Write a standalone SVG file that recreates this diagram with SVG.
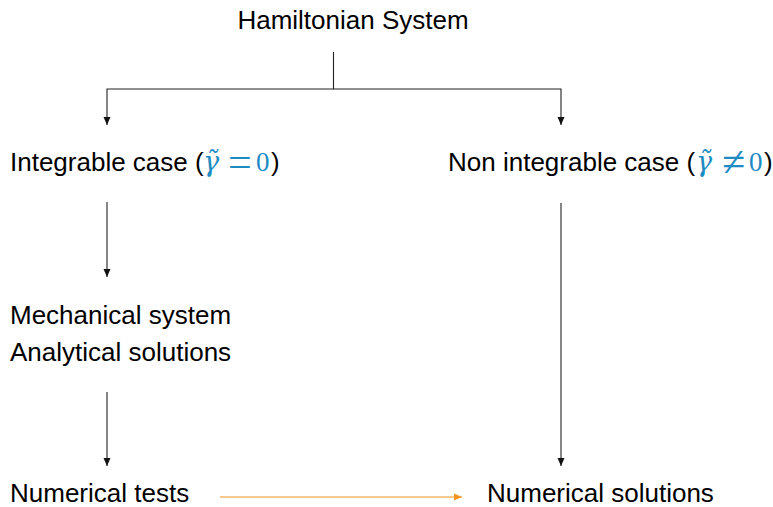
<svg xmlns="http://www.w3.org/2000/svg" width="773" height="507" viewBox="0 0 773 507">
<style>
.t{font-family:"Liberation Sans",Arial,sans-serif;font-size:26px;fill:#000}
.m{font-family:"Liberation Serif","Times New Roman",serif;fill:#1e8bc3}
.g{font-family:"DejaVu Serif",serif;font-style:italic;font-size:27px}
.eq{font-size:42px}
.z{font-size:27px}
.c{fill:none;stroke:#222;stroke-width:1.1}
.o{fill:none;stroke:#f7941d;stroke-width:1.1}
</style>
<defs>
<marker id="ah" markerWidth="8" markerHeight="10" refX="8" refY="5" orient="auto" markerUnits="userSpaceOnUse">
<path d="M0,1.5 L8,5 L0,8.5 z" fill="#111"/>
</marker>
<marker id="aho" markerWidth="8" markerHeight="10" refX="8" refY="5" orient="auto" markerUnits="userSpaceOnUse">
<path d="M0,1.5 L8,5 L0,8.5 z" fill="#f7941d"/>
</marker>
</defs>
<rect width="773" height="507" fill="#fff"/>
<g id="connectors">
<path class="c" d="M333.5,52 V89 H107 V125" marker-end="url(#ah)"/>
<path class="c" d="M333.5,89 H561 V125" marker-end="url(#ah)"/>
<path class="c" d="M107,202 V277" marker-end="url(#ah)"/>
<path class="c" d="M107,392 V466" marker-end="url(#ah)"/>
<path class="c" d="M561,203 V466" marker-end="url(#ah)"/>
<path class="o" d="M220,497 H462" marker-end="url(#aho)"/>
</g>
<g id="hamiltonian">
<text class="t" x="353" y="29" text-anchor="middle">Hamiltonian System</text>
</g>
<g id="integrable">
<text class="t" x="10" y="171">Integrable case (<tspan class="m g" x="203" y="171">γ̃</tspan><tspan class="m eq" x="228" y="176">=</tspan><tspan class="m z" x="256" y="171">0</tspan><tspan x="271" y="171">)</tspan></text>
</g>
<g id="nonintegrable">
<text class="t" x="448" y="171">Non integrable case (<tspan class="m g" x="696" y="171">γ̃</tspan><tspan class="m eq" x="722" y="176">≠</tspan><tspan class="m z" x="749" y="171">0</tspan><tspan x="764" y="171">)</tspan></text>
</g>
<g id="mechanical">
<text class="t" x="10" y="324">Mechanical system</text>
<text class="t" x="10" y="361">Analytical solutions</text>
</g>
<g id="tests">
<text class="t" x="10" y="502">Numerical tests</text>
</g>
<g id="solutions">
<text class="t" x="487" y="502">Numerical solutions</text>
</g>
</svg>
